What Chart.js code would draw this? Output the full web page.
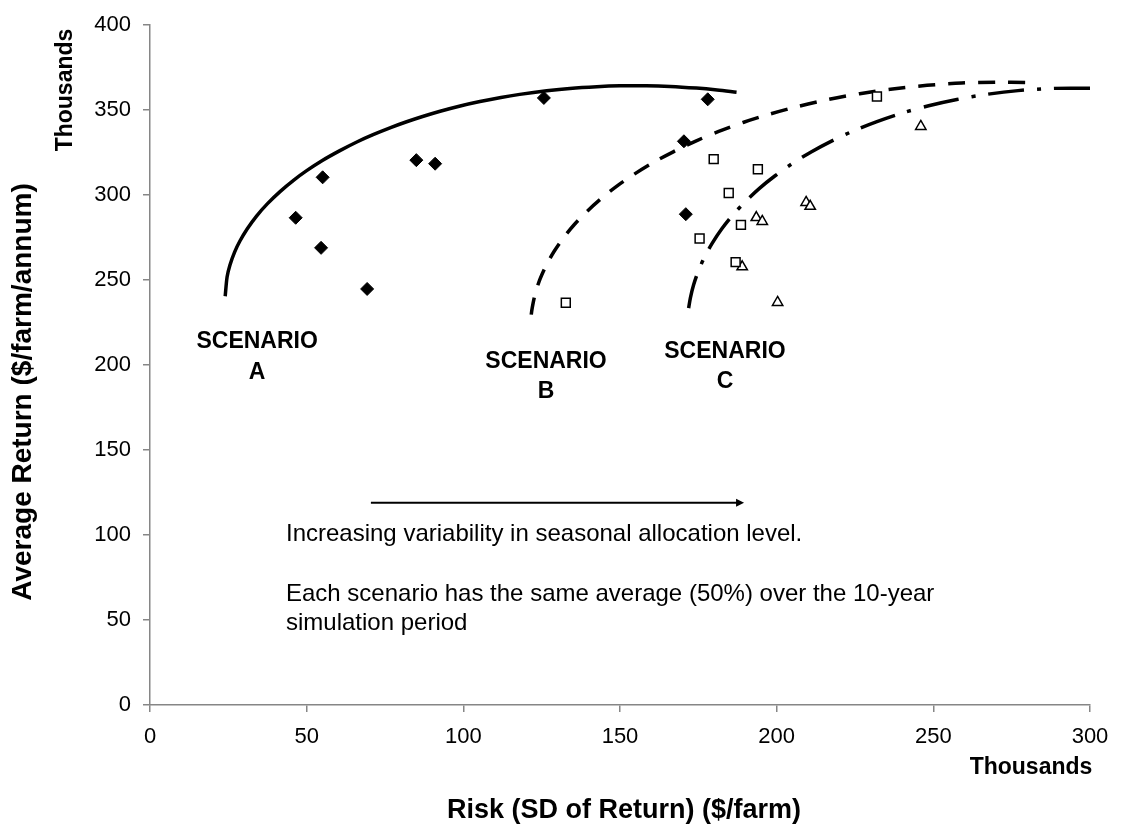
<!DOCTYPE html>
<html>
<head>
<meta charset="utf-8">
<script src="https://cdn.jsdelivr.net/npm/chart.js@4/dist/chart.umd.min.js"></script>
<style>
  html, body { margin: 0; padding: 0; background: #ffffff; }
  #wrap { width: 1125px; height: 837px; position: relative; }
</style>
</head>
<body>
<div id="wrap"><canvas id="c"></canvas></div>
<script>
// Axis ticks (thousands of $)
const xTickValues = [0, 50, 100, 150, 200, 250, 300];
const yTickValues = [0, 50, 100, 150, 200, 250, 300, 350, 400];

// Simulated outcomes: risk (SD of return) and average return, in $ thousands
const scenarioARisk   = [46.5, 55.1, 54.6, 69.3, 85.0, 91.0, 125.7, 178.0, 170.4, 171.0];
const scenarioAReturn = [286.7, 310.5, 269.0, 244.8, 320.6, 318.5, 357.2, 356.4, 331.7, 288.8];

const scenarioBRisk   = [132.7, 175.4, 179.9, 184.7, 188.6, 186.9, 194.0, 232.0];
const scenarioBReturn = [236.7, 274.5, 321.2, 301.3, 282.5, 260.6, 315.2, 358.0];

const scenarioCRisk   = [189.0, 193.5, 195.4, 200.3, 209.4, 210.7, 246.0];
const scenarioCReturn = [257.8, 286.8, 284.5, 236.9, 295.7, 293.4, 340.4];

// Hand-drawn frontier around each scenario's cloud (A: left to right; B and C traced from the right end)
const frontierARisk   = [24.0, 24.6, 25.5, 27.0, 28.7, 31.0, 34.0, 37.5, 41.5, 46.0, 50.0, 55.0, 60.6, 66.0, 71.2, 77.0, 81.9, 87.0, 92.6, 99.0, 105.3, 112.0, 118.0, 126.6, 134.0, 142.6, 150.0, 158.5, 166.0, 174.4, 181.0, 187.2];
const frontierAReturn = [240.5, 251.9, 258.8, 266.5, 273.0, 280.1, 287.7, 295.0, 302.1, 309.0, 314.4, 320.4, 326.2, 331.3, 335.6, 339.9, 343.2, 346.3, 349.4, 352.5, 355.1, 357.5, 359.3, 361.4, 362.8, 363.8, 364.3, 364.4, 364.0, 363.0, 361.9, 360.6];

const frontierBRisk   = [279.3, 270.0, 259.0, 248.0, 237.0, 226.5, 216.5, 207.0, 198.0, 189.5, 181.5, 174.0, 167.0, 160.5, 154.5, 149.0, 144.0, 139.5, 135.5, 132.0, 129.0, 126.5, 124.5, 123.0, 122.0, 121.55];
const frontierBReturn = [366.3, 366.5, 366.0, 364.6, 362.5, 359.7, 356.3, 352.3, 347.8, 342.9, 337.5, 331.7, 325.5, 319.1, 312.3, 305.3, 298.0, 290.5, 282.9, 275.0, 267.0, 258.9, 250.7, 242.4, 233.8, 228.0];

const frontierCRisk   = [300.0, 288.0, 277.0, 267.0, 257.5, 248.5, 240.0, 232.0, 224.5, 217.5, 211.0, 205.0, 199.5, 194.5, 190.0, 186.0, 182.5, 179.5, 177.0, 175.0, 173.5, 172.5, 171.9];
const frontierCReturn = [362.9, 362.8, 361.5, 359.3, 356.3, 352.6, 348.3, 343.3, 337.8, 331.8, 325.4, 318.6, 311.4, 304.0, 296.2, 288.3, 280.2, 271.9, 263.6, 255.3, 247.3, 239.9, 233.5];

// Text placed on the plot
const scenarioNames = ['A', 'B', 'C'];
const noteLines = [
  'Increasing variability in seasonal allocation level.',
  'Each scenario has the same average (50%) over the 10-year',
  'simulation period'
];

const toPoints = (xs, ys) => xs.map((x, i) => ({ x: x, y: ys[i] }));

const FONT = '"Liberation Sans", Arial, Helvetica, sans-serif';

// Placement of the annotations, in data units
const scenarioLabelPos = [
  { x: 34.2, y1: 213.7, y2: 195.6 },
  { x: 126.4, y1: 202.0, y2: 184.2 },
  { x: 183.5, y1: 208.2, y2: 190.4 }
];
const notePos = { x: 43.4, ys: [100.4, 64.8, 47.9] };
const arrowPos = { x1: 70.5, x2: 189.6, y: 119 };

const annotations = {
  id: 'annotations',
  afterDraw(chart) {
    const ctx = chart.ctx;
    const xs = chart.scales.x, ys = chart.scales.y;
    ctx.save();
    ctx.fillStyle = '#000';
    ctx.strokeStyle = '#000';

    // scenario labels
    ctx.font = 'bold 23px ' + FONT;
    ctx.textAlign = 'center';
    ctx.textBaseline = 'middle';
    scenarioNames.forEach((n, i) => {
      const p = scenarioLabelPos[i];
      const px = xs.getPixelForValue(p.x);
      ctx.fillText('SCENARIO', px, ys.getPixelForValue(p.y1));
      ctx.fillText(n, px, ys.getPixelForValue(p.y2));
    });

    // arrow
    const ax1 = xs.getPixelForValue(arrowPos.x1);
    const ax2 = xs.getPixelForValue(arrowPos.x2);
    const ay = ys.getPixelForValue(arrowPos.y);
    ctx.lineWidth = 2;
    ctx.beginPath();
    ctx.moveTo(ax1, ay);
    ctx.lineTo(ax2 - 6, ay);
    ctx.stroke();
    ctx.beginPath();
    ctx.moveTo(ax2, ay);
    ctx.lineTo(ax2 - 8, ay - 4);
    ctx.lineTo(ax2 - 8, ay + 4);
    ctx.closePath();
    ctx.fill();

    // note text
    ctx.font = '24px ' + FONT;
    ctx.textAlign = 'left';
    noteLines.forEach((t, i) => {
      ctx.fillText(t, xs.getPixelForValue(notePos.x), ys.getPixelForValue(notePos.ys[i]));
    });

    // axis titles
    ctx.textAlign = 'center';
    ctx.font = 'bold 27px ' + FONT;
    ctx.fillText('Risk (SD of Return) ($/farm)', 624, 811);
    ctx.font = 'bold 23px ' + FONT;
    ctx.fillText('Thousands', 1031, 768);

    ctx.save();
    ctx.translate(23, 392);
    ctx.rotate(-Math.PI / 2);
    ctx.font = 'bold 28px ' + FONT;
    ctx.fillText('Average Return ($/farm/annum)', 0, 0);
    ctx.restore();

    ctx.save();
    ctx.translate(66, 90);
    ctx.rotate(-Math.PI / 2);
    ctx.font = 'bold 23px ' + FONT;
    ctx.fillText('Thousands', 0, 0);
    ctx.restore();

    ctx.restore();
  }
};

const curveStyle = {
  showLine: true,
  pointRadius: 0,
  pointHoverRadius: 0,
  borderColor: '#000',
  borderWidth: 3.5,
  borderCapStyle: 'butt',
  borderJoinStyle: 'round',
  tension: 0.3,
  fill: false,
  order: 2
};

new Chart(document.getElementById('c'), {
  type: 'scatter',
  data: {
    datasets: [
      {
        label: 'Scenario A',
        data: toPoints(scenarioARisk, scenarioAReturn),
        pointStyle: 'rectRot', pointRadius: 6.5,
        backgroundColor: '#000', borderColor: '#000', borderWidth: 1,
        order: 0
      },
      {
        label: 'Scenario B',
        data: toPoints(scenarioBRisk, scenarioBReturn),
        pointStyle: 'rect', pointRadius: 6.3,
        backgroundColor: '#fff', borderColor: '#000', borderWidth: 1.5,
        order: 0
      },
      {
        label: 'Scenario C',
        data: toPoints(scenarioCRisk, scenarioCReturn),
        pointStyle: 'triangle', pointRadius: 6,
        backgroundColor: '#fff', borderColor: '#000', borderWidth: 1.5,
        order: 0
      },
      Object.assign({ label: 'Frontier A', data: toPoints(frontierARisk, frontierAReturn) }, curveStyle),
      Object.assign({ label: 'Frontier B', data: toPoints(frontierBRisk, frontierBReturn), borderDash: [17, 13] }, curveStyle),
      Object.assign({ label: 'Frontier C', data: toPoints(frontierCRisk, frontierCReturn), borderDash: [36, 13, 4, 13] }, curveStyle)
    ]
  },
  options: {
    responsive: true,
    maintainAspectRatio: false,
    animation: false,
    events: [],
    layout: { padding: { left: 0, top: 20, right: 35, bottom: 0 } },
    plugins: {
      legend: { display: false },
      tooltip: { enabled: false },
      title: { display: false }
    },
    scales: {
      x: {
        type: 'linear',
        min: 0, max: 300,
        afterBuildTicks: s => { s.ticks = xTickValues.map(v => ({ value: v })); },
        afterFit: s => { s.height = 132; },
        ticks: { color: '#000', font: { family: FONT, size: 22 }, padding: 12, maxRotation: 0 },
        grid: { drawOnChartArea: false, drawTicks: true, tickLength: 7, color: '#868686', lineWidth: 1.5 },
        border: { display: true, color: '#868686', width: 1.5 }
      },
      y: {
        type: 'linear',
        min: 0, max: 400,
        afterBuildTicks: s => { s.ticks = yTickValues.map(v => ({ value: v })); },
        afterFit: s => { s.width = 150; },
        ticks: { color: '#000', font: { family: FONT, size: 22 }, padding: 12 },
        grid: { drawOnChartArea: false, drawTicks: true, tickLength: 7, color: '#868686', lineWidth: 1.5 },
        border: { display: true, color: '#868686', width: 1.5 }
      }
    }
  },
  plugins: [annotations]
});
</script>
</body>
</html>
